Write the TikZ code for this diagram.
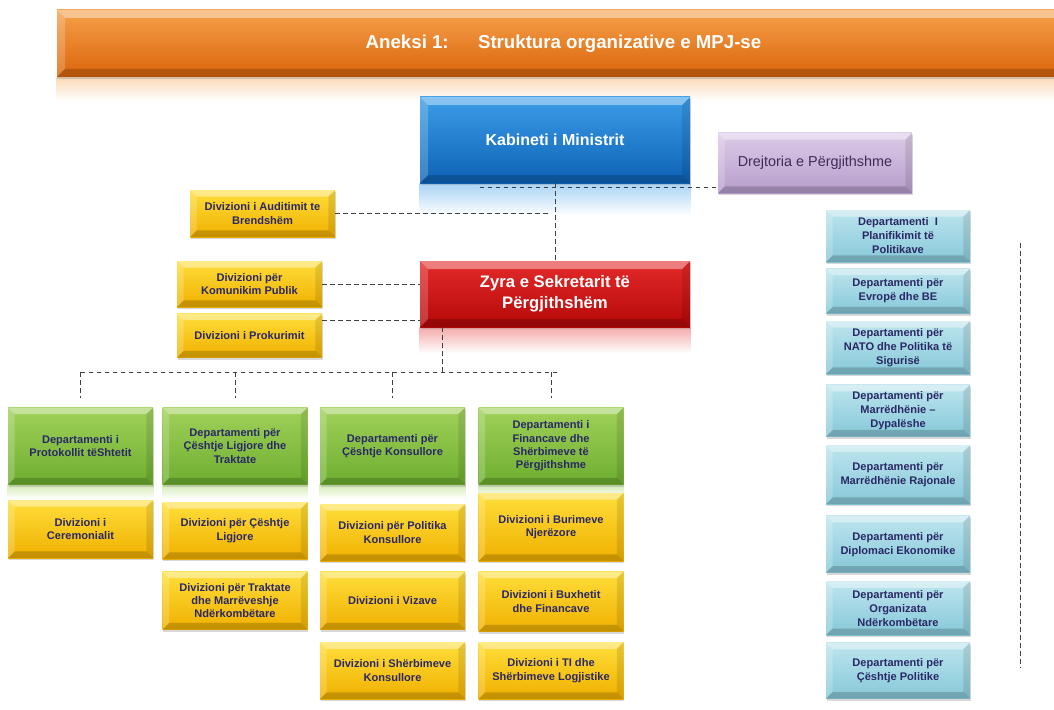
\documentclass[tikz,border=0pt]{standalone}
\usepackage{fontspec}
\setmainfont{Liberation Sans}
\usepackage{tikz}
\usetikzlibrary{positioning, shadows, backgrounds, calc}
\usepackage{xcolor}

\definecolor{bannerTop}{HTML}{F5A14A}
\definecolor{bannerMid}{HTML}{E8781C}
\definecolor{bannerBot}{HTML}{DB640B}
\definecolor{kabTop}{HTML}{3C9DE8}
\definecolor{kabBot}{HTML}{0D62B5}
\definecolor{zyraTop}{HTML}{E42A2A}
\definecolor{zyraBot}{HTML}{B50808}
\definecolor{drejTop}{HTML}{DCCBE8}
\definecolor{drejBot}{HTML}{B69DCB}
\definecolor{grnTop}{HTML}{A1D15A}
\definecolor{grnBot}{HTML}{6DAE2F}
\definecolor{yelTop}{HTML}{FFDE3A}
\definecolor{yelBot}{HTML}{F0B000}
\definecolor{rdTop}{HTML}{BDE5EE}
\definecolor{rdBot}{HTML}{86C8D8}
\definecolor{navyText}{HTML}{2A2866}
\definecolor{drejText}{HTML}{3D2D58}
\definecolor{linkGray}{HTML}{3F3F3F}

\newcommand{\pxu}{0.75pt}

\tikzset{
    bevel/.style={path picture={
        \coordinate (bnw) at (path picture bounding box.north west);
        \coordinate (bne) at (path picture bounding box.north east);
        \coordinate (bsw) at (path picture bounding box.south west);
        \coordinate (bse) at (path picture bounding box.south east);
        \fill[white,opacity=.4] (bnw) -- (bne) -- ([shift={(-#1,-#1)}]bne) -- ([shift={(#1,-#1)}]bnw) -- cycle;
        \fill[white,opacity=.2] (bnw) -- ([shift={(#1,-#1)}]bnw) -- ([shift={(#1,#1)}]bsw) -- (bsw) -- cycle;
        \fill[black,opacity=.18] (bsw) -- ([shift={(#1,#1)}]bsw) -- ([shift={(-#1,#1)}]bse) -- (bse) -- cycle;
        \fill[black,opacity=.1] (bne) -- (bse) -- ([shift={(-#1,#1)}]bse) -- ([shift={(-#1,-#1)}]bne) -- cycle;
    }},
    bevel/.default=5pt
}

\begin{document}
\begin{tikzpicture}[
    x=0.75pt, y=-0.75pt,
    box/.style={rectangle, inner sep=2pt, align=center, text=navyText,
        font=\bfseries\fontsize{8.3}{10}\selectfont, bevel,
        drop shadow={shadow xshift=0.5pt, shadow yshift=-1.5pt, opacity=.3}},
    dept/.style={box, top color=grnTop, bottom color=grnBot,
        minimum width=145*\pxu, minimum height=77*\pxu},
    divn/.style={box, top color=yelTop, bottom color=yelBot,
        minimum width=145*\pxu, minimum height=#1*\pxu},
    rdept/.style={box, top color=rdTop, bottom color=rdBot,
        font=\bfseries\fontsize{8.3}{10.5}\selectfont,
        minimum width=144*\pxu, minimum height=#1*\pxu},
    banner/.style={rectangle, top color=bannerTop, middle color=bannerMid, bottom color=bannerBot,
        minimum width=1013*\pxu, minimum height=67*\pxu, text=white,
        font=\bfseries\fontsize{14}{16}\selectfont, bevel=6pt,
        drop shadow={shadow xshift=0pt, shadow yshift=-1.5pt, opacity=.3}},
    cabinet/.style={box, top color=kabTop, bottom color=kabBot, text=white,
        font=\bfseries\fontsize{12}{14}\selectfont, bevel=6pt,
        minimum width=270*\pxu, minimum height=86*\pxu},
    secretary/.style={box, top color=zyraTop, bottom color=zyraBot, text=white,
        font=\bfseries\fontsize{12.5}{16}\selectfont, bevel=6pt,
        minimum width=270*\pxu, minimum height=66*\pxu},
    directorate/.style={box, top color=drejTop, bottom color=drejBot, text=drejText,
        font=\fontsize{10.8}{12}\selectfont,
        minimum width=194*\pxu, minimum height=60*\pxu},
    link/.style={draw=linkGray, line width=0.7pt, dash pattern=on 3.5pt off 2.5pt}
]
    \begin{scope}[on background layer]
        \fill[white] (0,0) rectangle (1054,710);
    \end{scope}
    \useasboundingbox (0,0) rectangle (1054,710);

    % Define nodes
    \node[banner] (title) at (563.5,43.5) {Aneksi 1:\hspace{22pt}Struktura organizative e MPJ-se};
    \node[cabinet] (kab) at (555,140) {Kabineti i Ministrit};
    \node[directorate] (drej) at (815,163) {Drejtoria e Përgjithshme};
    \node[secretary] (zyra) at (555,294) {Zyra e Sekretarit të\\Përgjithshëm};

    \node[divn=47] (audit) at (262.5,213.5) {Divizioni i Auditimit te\\Brendshëm};
    \node[divn=46] (komun) at (249.5,284) {Divizioni për\\Komunikim Publik};
    \node[divn=44, below=4.5pt of komun] (prok) {Divizioni i Prokurimit};

    \node[dept] (dp1) at (80.5,446) {Departamenti i\\Protokollit tëShtetit};
    \node[dept] (dp2) at (235,446) {Departamenti për\\Çështje Ligjore dhe\\Traktate};
    \node[dept] (dp3) at (392.5,446) {Departamenti për\\Çështje Konsullore};
    \node[dept] (dp4) at (551,446) {Departamenti i\\Financave dhe\\Shërbimeve të\\Përgjithshme};

    \node[divn=58, below=11.25pt of dp1] (dv11) {Divizioni i\\Ceremonialit};
    \node[divn=57, below=12.75pt of dp2] (dv21) {Divizioni për Çështje\\Ligjore};
    \node[divn=58, below=9pt of dv21] (dv22) {Divizioni për Traktate\\dhe Marrëveshje\\Ndërkombëtare};
    \node[divn=57, below=14.25pt of dp3] (dv31) {Divizioni për Politika\\Konsullore};
    \node[divn=58, below=7.5pt of dv31] (dv32) {Divizioni i Vizave};
    \node[divn=57, below=9pt of dv32] (dv33) {Divizioni i Shërbimeve\\Konsullore};
    \node[divn=68, below=6pt of dp4] (dv41) {Divizioni i Burimeve\\Njerëzore};
    \node[divn=60, below=7.5pt of dv41] (dv42) {Divizioni i Buxhetit\\dhe Financave};
    \node[divn=57, below=7.5pt of dv42] (dv43) {Divizioni i TI dhe\\Shërbimeve Logjistike};

    \node[rdept=52] (rd1) at (898,236) {Departamenti~ I\\Planifikimit të\\Politikave};
    \node[rdept=45, below=4.5pt of rd1] (rd2) {Departamenti për\\Evropë dhe BE};
    \node[rdept=53, below=5.25pt of rd2] (rd3) {Departamenti për\\NATO dhe Politika të\\Sigurisë};
    \node[rdept=52, below=7.5pt of rd3] (rd4) {Departamenti për\\Marrëdhënie –\\Dypalëshe};
    \node[rdept=59, below=6pt of rd4] (rd5) {Departamenti për\\Marrëdhënie Rajonale};
    \node[rdept=57, below=8.25pt of rd5] (rd6) {Departamenti për\\Diplomaci Ekonomike};
    \node[rdept=54, below=6pt of rd6] (rd7) {Departamenti për\\Organizata\\Ndërkombëtare};
    \node[rdept=56, below=5.25pt of rd7] (rd8) {Departamenti për\\Çështje Politike};

    % Reflections
    \begin{scope}[on background layer]
        \fill[top color=bannerTop!40, bottom color=white] (title.south west) rectangle ($(title.south east)+(0,24)$);
        \fill[top color=kabTop!45, bottom color=white] (kab.south west) rectangle ($(kab.south east)+(0,32)$);
        \fill[top color=zyraTop!40, bottom color=white] (zyra.south west) rectangle ($(zyra.south east)+(0,26)$);
        \foreach \d in {dp1,dp2,dp3,dp4}
            \fill[top color=grnTop!45, bottom color=white] (\d.south west) rectangle ($(\d.south east)+(0,14)$);
    \end{scope}

    % Connections
    \coordinate (kabL) at ($(kab.south west)+(60,4)$);
    \coordinate (prokR) at ($(zyra.south west)+(0,-7)$);
    \coordinate (zyraD) at ($(zyra.south west)+(23,0)$);
    \coordinate (bus) at ($(zyraD)+(0,45)$);
    \coordinate (rtop) at (1020,243);
    \coordinate (rbot) at (1020,668);

    \path[link]
        (kabL) edge (kabL -| drej.west)
        (kab.south) edge (zyra.north)
        (audit.east) edge ($(audit.east -| kab.south)+(-5,0)$)
        (komun.east) edge (komun.east -| zyra.west)
        (prokR -| prok.east) edge (prokR)
        (zyraD) edge (bus)
        (bus -| dp1.north) edge ($(bus -| dp4.north)+(6,0)$)
        (rtop) edge (rbot);
    \foreach \d in {dp1,dp2,dp3,dp4}
        \draw[link] (bus -| \d.north) -- ($(\d.north)+(0,-9)$);
\end{tikzpicture}
\end{document}
